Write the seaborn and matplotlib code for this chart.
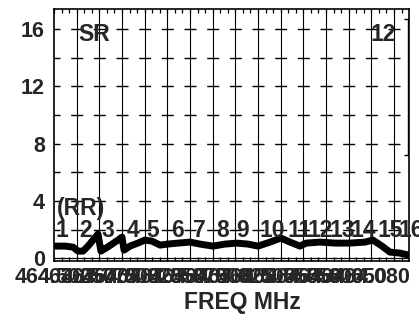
import matplotlib
matplotlib.use("Agg")
import matplotlib.pyplot as plt
from matplotlib.ticker import MultipleLocator
import seaborn as sns
import pandas as pd

# Sweep positions (grid steps) and measured SWR along the sweep
sweep_pos = [0.04, 0.49, 0.84, 1.06, 1.28, 1.50, 1.72, 1.94, 2.07, 2.29, 2.56, 2.82,
             3.00, 3.09, 3.35, 3.70, 4.00, 4.32, 4.68, 5.00, 5.47, 6.00, 6.44, 7.01,
             7.54, 8.07, 8.56, 9.00, 9.53, 10.01, 10.41, 10.85, 11.12, 11.73, 12.40,
             13.06, 13.72, 14.07, 14.47, 14.82, 15.26, 15.66]
swr = [0.84, 0.84, 0.77, 0.49, 0.49, 0.84, 1.26, 1.68, 0.49, 0.70, 0.98, 1.26,
       1.47, 0.56, 0.84, 1.05, 1.26, 1.19, 0.91, 0.98, 1.05, 1.12, 0.98, 0.84,
       0.98, 1.05, 0.98, 0.84, 1.12, 1.40, 1.12, 0.84, 1.05, 1.12, 1.05,
       1.05, 1.12, 1.26, 0.84, 0.42, 0.35, 0.21]

# Frequency labels at each sweep grid step (MHz)
freq_labels = ["464.500", "463.250", "467.775", "467.800", "467.825", "467.850",
               "467.875", "467.900", "467.925", "469.500", "469.550", "464.550",
               "464.600", "464.650", "464.080", ""]

# Channel numbers and where they sit along the sweep
channels = [str(c) for c in range(1, 17)]
channel_pos = [0.35, 1.41, 2.38, 3.48, 4.37, 5.43, 6.40, 7.45, 8.34, 9.62,
               10.85, 11.73, 12.70, 13.63, 14.82, 15.75]

y_ticks = [0, 4, 8, 12, 16]
cursor_channel = "12"
cursor_pos = 15.6
cursor_span = (7.2, 16.7)

sns.set_style("white")
plt.rcParams["font.family"] = ["Liberation Sans", "DejaVu Sans"]
plt.rcParams["font.weight"] = "bold"

fig = plt.figure(figsize=(4.19, 3.20), dpi=100)
ax = fig.add_axes([54 / 419, 1 - 261 / 320, 355 / 419, 252 / 320])

x_max = 15.66
ax.set_xlim(0, x_max)
ax.set_ylim(-0.2, 17.4)

# vertical grid at every sweep step
ax.vlines(range(1, 16), -0.2, 17.4, colors="black", linewidth=0.8, zorder=1)
# dashed horizontal grid crossing the vertical lines
for yv in range(2, 18, 2):
    ax.plot([0, x_max], [yv, yv], color="black", linewidth=1.0,
            linestyle=(4.32, (8.64, 7.68)), zorder=1)
# ruler line just above the bottom frame
ax.axhline(0, color="black", linewidth=0.9, zorder=2)

df = pd.DataFrame({"pos": sweep_pos, "swr": swr})
sns.lineplot(data=df, x="pos", y="swr", ax=ax, color="black", linewidth=5.0,
             sort=False, zorder=3)

# cursor marker
ax.vlines(cursor_pos, *cursor_span, colors="black", linewidth=1.0, zorder=3)
ax.hlines(list(cursor_span), cursor_pos - 0.17, cursor_pos + 0.17, colors="black",
          linewidth=1.0, zorder=3)

fs = 16.5
for lab, xp in zip(channels, channel_pos):
    ax.text(xp, 1.9, lab, ha="center", va="center", fontsize=fs,
            fontweight="bold", clip_on=False, zorder=4)
ax.text(1.21, 3.5, "(RR)", ha="center", va="center", fontsize=fs, fontweight="bold")
ax.text(1.76, 15.6, "SR", ha="center", va="center", fontsize=fs, fontweight="bold")
ax.text(14.5, 15.65, cursor_channel, ha="center", va="center", fontsize=fs,
        fontweight="bold")

ax.set_xticks(range(16))
ax.set_xticklabels(freq_labels, fontsize=15.5, fontweight="bold")
ax.xaxis.set_minor_locator(MultipleLocator(1 / 3))
ax.set_yticks(y_ticks)
ax.set_yticklabels([str(v) for v in y_ticks], fontsize=15.5, fontweight="bold")

ax.tick_params(axis="x", which="both", direction="in", top=True, bottom=True,
               length=3, width=0.9, color="black", pad=4)
ax.tick_params(axis="y", which="both", length=0, pad=6.5)

for s in ax.spines.values():
    s.set_color("black")
    s.set_linewidth(1.2)

ax.set_xlabel("FREQ MHz", fontsize=16.5, fontweight="bold")
ax.xaxis.set_label_coords(0.53, -0.12)
ax.set_ylabel("")

fig.savefig("out.png", dpi=100)
